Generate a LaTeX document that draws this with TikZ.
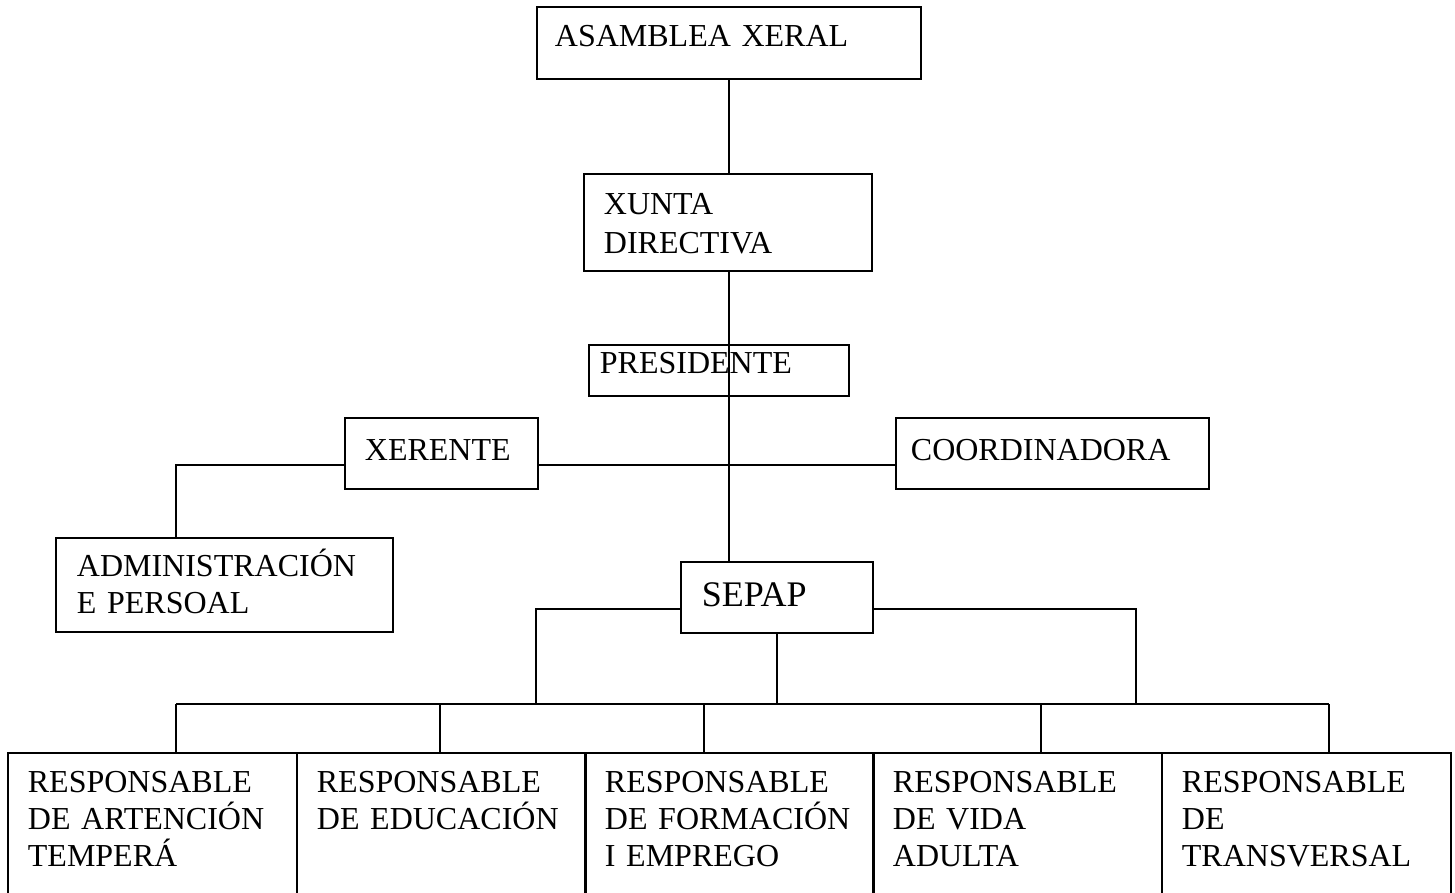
\documentclass[tikz,border=0pt]{standalone}
\usepackage{fontspec}
\setmainfont{Liberation Serif}
\begin{document}
\begin{tikzpicture}[x=1pt, y=-1pt,
    box/.style={draw, line width=1.8pt, anchor=north west, inner ysep=0pt, inner xsep=20pt,
        align=left, font=\fontsize{32}{37}\selectfont},
    link/.style={line width=1.8pt}]
    % 画布
    \useasboundingbox (0,0) rectangle (1455,892);
    \clip (0,0) rectangle (1455,892);

    % 上层方框
    \node[box, inner xsep=18pt, text width=348pt, text height=40pt, text depth=32pt] (asamblea) at (536,6) {ASAMBLEA XERAL};
    \node[box, text width=248pt, text height=41pt, text depth=56pt, font=\fontsize{32}{39}\selectfont] (xunta) at (583,173) {XUNTA\\DIRECTIVA};
    \node[box, inner xsep=11pt, text width=238pt, text height=29pt, text depth=22pt] (presidente) at (588,344) {PRESIDENTE};
    \node[box, text width=153pt, text height=43pt, text depth=28pt] (xerente) at (344,417) {XERENTE};
    \node[box, inner xsep=15pt, text width=283pt, text height=43pt, text depth=28pt] (coord) at (895,417) {COORDINADORA};
    \node[box, inner xsep=21pt, text width=295pt, text height=39pt, text depth=55pt] (admin) at (55,537) {ADMINISTRACIÓN\\E PERSOAL};
    \node[box, inner xsep=21pt, text width=150pt, text height=45pt, text depth=26pt,
        font=\fontsize{36}{41}\selectfont] (sepap) at (680,561) {SEPAP};

    % 下层方框
    \foreach \i/\x/\txt in {1/7/{RESPONSABLE\\DE ARTENCIÓN\\TEMPERÁ},
                           2/296/{RESPONSABLE\\DE EDUCACIÓN},
                           3/584/{RESPONSABLE\\DE FORMACIÓN\\I EMPREGO},
                           4/872/{RESPONSABLE\\DE VIDA\\ADULTA},
                           5/1161/{RESPONSABLE\\DE\\TRANSVERSAL}}
        \node[box, text width=249pt, text height=40pt, text depth=108pt] (resp\i) at (\x,752) {\txt};

    % 主干线
    \coordinate (spine) at (asamblea.south);
    \draw[link] (asamblea.south) -- (spine |- xunta.north);
    \draw[link] (spine |- xunta.south) -- (spine |- sepap.north);

    % XERENTE 一行
    \coordinate (fila) at (728,465);
    \coordinate (adm) at (176,537);
    \draw[link] (xerente.east |- fila) -- (coord.west |- fila);
    \draw[link] (xerente.west |- fila) -| (adm);

    % SEPAP 分支
    \coordinate (rama) at (728,609);
    \coordinate (ramaL) at (536,704);
    \coordinate (ramaR) at (1136,704);
    \draw[link] (sepap.west |- rama) -| (ramaL);
    \draw[link] (sepap.east |- rama) -| (ramaR);
    \draw[link] (sepap.south) -- (sepap.south |- ramaL);

    % 横线和竖线
    \coordinate (busL) at (176,704);
    \coordinate (busR) at (1329,704);
    \draw[link] (busL) -- (busR);
    \foreach \i/\x in {1/176, 2/440, 3/704, 4/1041, 5/1329} {
        \coordinate (d\i) at (\x,704);
        \draw[link] (d\i) -- (d\i |- resp\i.north);
    }
\end{tikzpicture}
\end{document}
